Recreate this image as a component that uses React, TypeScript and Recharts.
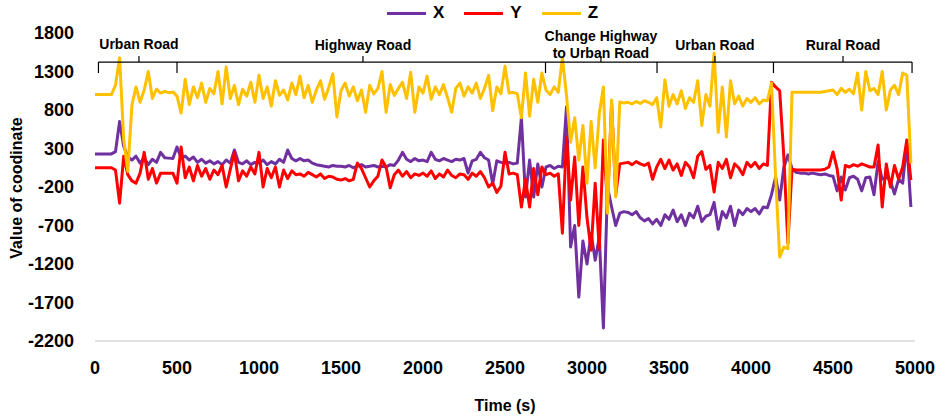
import { LineChart, Line, XAxis, YAxis, ReferenceLine, ReferenceDot } from 'recharts'

// sample times (s), one reading every 25 s
const time = Array.from({ length: 200 }, (_, i) => i * 25)

const xValues = [
  230, 230, 230, 230, 230, 260, 650, 330, 190, 150,
  200, 110, 180, 90, 160, 120, 250, 180, 175, 170,
  320, 180, 200, 150, 190, 120, 160, 110, 140, 100,
  130, 90, 150, 110, 280, 120, 100, 140, 90, 120,
  110, 150, 90, 130, 100, 160, 120, 280, 170, 140,
  170, 140, 150, 110, 90, 80, 70, 60, 80, 70,
  70, 60, 80, 50, 70, 90, 60, 70, 80, 60,
  70, 60, 90, 80, 150, 250, 160, 130, 170, 140,
  150, 130, 250, 160, 140, 170, 150, 130, 160, 150,
  170, -20, 140, 160, 250, 180, 150, -160, 140, 120,
  110, 120, 100, 110, 700, -330, 150, -330, 100, -200,
  60, 80, 40, 70, 60, 840, -980, -700, -1630, -900,
  -1200, -800, -1150, -850, -2030, -200, -460, -700, -540, -520,
  -530, -560, -520, -600, -640, -610, -680, -620, -700, -560,
  -620, -500, -650, -560, -700, -540, -600, -450, -650, -580,
  -560, -400, -750, -520, -600, -450, -700, -500, -560, -480,
  -520, -480, -550, -460, -470, -300, -70, -370, 50, 215,
  40, -10, -20, -20, -30, -20, -30, -40, -30, -50,
  -60, -250, -70, -240, -80, -60, -100, -250, -80, -70,
  -300, 130, -100, -70, -120, -290, -100, -150, 380, -460,
]

const yValues = [
  50, 50, 50, 50, 50, 20, -410, 200, -40, -120,
  -150, -20, 250, -100, 40, -150, -20, -20, -20, -20,
  -150, 320, -80, 60, -120, 80, -60, 40, -100, 20,
  -40, 80, -200, 30, 250, -120, 10, -60, 60, -30,
  250, -200, 40, -80, 60, -200, 20, -90, 10, -40,
  -30, -60, -10, -40, -70, -30, -90, -60, -70, -100,
  -110, -90, -120, -100, 110, 40, -80, -200, -120, -60,
  150, 60, -210, -40, 20, -60, 0, -80, -30, -50,
  -20, -60, 10, -90, -30, -70, 20, -50, -80, -30,
  -40, -100, -20, -60, 0, -80, -200, -150, -270, -190,
  250, -30, -20, -40, -460, -100, -460, 40, -300, 60,
  -40, -20, -60, -30, -800, 450, -370, 190, -700, 60,
  -600, -1020, -150, -1000, 410, -420, 890, -300, 100, 110,
  120, 90, 130, 100, 80, 110, -100, 60, 160, 40,
  150, 20, 100, -50, 120, 60, -80, 200, 260, 30,
  80, -265, 120, 40, 160, -80, 100, 50, -40, 120,
  60, 120, 40, 100, 80, 1160, 1100, 1050, 200, -930,
  30, 20, 20, 20, 20, 20, 20, 20, 30, 60,
  255, 40, -370, 80, 60, 90, 70, 100, 80, 60,
  60, 345, -460, 100, -200, 80, -100, 60, 410, -110,
]

const zValues = [
  1000, 1000, 1000, 1000, 1000, 1120, 1480, 420, 0, 860,
  1100, 900, 1060, 1300, 950, 1070, 1020, 1040, 1025, 1035,
  980, 760, 1200, 870, 1100, 960, 1150, 900, 1080, 1010,
  1300, 880, 1360, 950, 1120, 870, 1070, 980, 1160, 900,
  1250, 950, 1100, 850, 1180, 990, 1060, 930, 1150, 1000,
  1240, 960, 1120, 900, 1060, 1180, 940, 1090, 1270, 710,
  1050, 1150, 980, 1100, 920, 1060, 770, 1120, 1010, 1080,
  1300, 770, 1130, 990, 1080, 1160, 950, 1290, 770, 1100,
  1020, 1240, 940, 1100, 1000, 1130, 960, 770, 1080, 1150,
  980, 1100, 1020, 1150, 950, 1080, 1250, 790, 1100, 1010,
  1370, 1020, 1030, 1010, 700, 1280, 720, 1200, 900, 1280,
  1060, 1000, 1100, 1030, 1480, 990, 380, 700, 150, 600,
  -150, 650, 50, 750, 1100, -540, 930, -330, 905, 890,
  900, 880, 910, 885, 920, 900, 870, 960, 580, 1190,
  850, 1000, 880, 1050, 820, 960, 900, 1180, 600, 1000,
  850, 1540, 510, 1100, 450, 1180, 880, 980, 850, 950,
  900, 960, 880, 930, 920, 1150, -70, -1110, -980, -1000,
  1030, 1030, 1030, 1030, 1030, 1030, 1030, 1030, 1040, 1050,
  1060, 1000, 1080, 1030, 1070, 1010, 1280, 800, 1300, 1050,
  1080, 1000, 1300, 800, 1060, 1120, 1000, 1280, 1250, 110,
]

const xTicks = [0, 500, 1000, 1500, 2000, 2500, 3000, 3500, 4000, 4500, 5000]
const yTicks = [-2200, -1700, -1200, -700, -200, 300, 800, 1300, 1800]

// road sections shown by the braces on top
const sectionEdges = [21, 500, 2747, 3427, 4137, 4982]
const sectionMids = [268, 1634, 3085, 3780, 4561]
const sectionLabels = [
  { x: 268, y: 1657, text: 'Urban Road' },
  { x: 1634, y: 1644, text: 'Highway Road' },
  { x: 3085, y: 1761, text: 'Change Highway' },
  { x: 3085, y: 1540, text: 'to Urban Road' },
  { x: 3780, y: 1644, text: 'Urban Road' },
  { x: 4561, y: 1644, text: 'Rural Road' },
]
const braceY = 1423
const braceTickY = 1280
const braceNotchY = 1501

const rows = time.map((t, i) => ({ t, x: xValues[i], y: yValues[i], z: zValues[i] }))

const series = [
  { key: 'x', name: 'X', color: '#7030A0' },
  { key: 'y', name: 'Y', color: '#FF0000' },
  { key: 'z', name: 'Z', color: '#FFC000' },
]

const font = '"Liberation Sans", Arial, sans-serif'
const tickStyle = { fill: '#000', fontSize: 18, fontWeight: 700 }

export default function App() {
  return (
    <div style={{ position: 'absolute', left: 0, top: 0, width: 937, height: 419, fontFamily: font, background: '#fff' }}>
      <LineChart width={937} height={419} data={rows} margin={{ top: 33, right: 22, left: 0, bottom: 48 }}>
        <XAxis
          dataKey="t"
          type="number"
          domain={[0, 5000]}
          ticks={xTicks}
          interval={0}
          height={30}
          tickSize={0}
          tickMargin={20}
          axisLine={{ stroke: '#d9d9d9', strokeWidth: 1.5 }}
          tick={tickStyle}
        />
        <YAxis
          type="number"
          domain={[-2200, 1800]}
          ticks={yTicks}
          interval={0}
          width={95}
          tickSize={0}
          tickMargin={21}
          axisLine={false}
          tick={tickStyle}
        />
        {series.map((s) => (
          <Line
            key={s.key}
            dataKey={s.key}
            name={s.name}
            stroke={s.color}
            strokeWidth={3}
            strokeLinejoin="round"
            dot={false}
            type="linear"
            isAnimationActive={false}
          />
        ))}

        {/* braces */}
        <ReferenceLine
          segment={[{ x: sectionEdges[0], y: braceY }, { x: sectionEdges[sectionEdges.length - 1], y: braceY }]}
          stroke="#000"
          strokeWidth={1.2}
          ifOverflow="visible"
        />
        {sectionEdges.map((e) => (
          <ReferenceLine
            key={'e' + e}
            segment={[{ x: e, y: braceY }, { x: e, y: braceTickY }]}
            stroke="#000"
            strokeWidth={1.2}
            ifOverflow="visible"
          />
        ))}
        {sectionMids.map((m) => (
          <ReferenceLine
            key={'m' + m}
            segment={[{ x: m, y: braceY }, { x: m, y: braceNotchY }]}
            stroke="#000"
            strokeWidth={1.2}
            ifOverflow="visible"
          />
        ))}
        {sectionLabels.map((l) => (
          <ReferenceDot
            key={l.text + l.x}
            x={l.x}
            y={l.y}
            r={0}
            fill="none"
            stroke="none"
            ifOverflow="visible"
            label={{ value: l.text, position: 'center', fill: '#000', fontSize: 14, fontWeight: 700 }}
          />
        ))}
      </LineChart>

      {/* legend */}
      <div style={{ position: 'absolute', top: 3, left: 387, display: 'flex', alignItems: 'center', fontWeight: 700, fontSize: 17 }}>
        {series.map((s) => (
          <div key={s.key} style={{ display: 'flex', alignItems: 'center', marginRight: 20 }}>
            <div style={{ width: 39, height: 3, background: s.color, marginRight: 7 }} />
            <span>{s.name}</span>
          </div>
        ))}
      </div>

      <div
        style={{
          position: 'absolute',
          left: 17,
          top: 188,
          transform: 'translate(-50%, -50%) rotate(-90deg)',
          whiteSpace: 'nowrap',
          fontWeight: 700,
          fontSize: 16,
        }}
      >
        Value of coodinate
      </div>
      <div
        style={{
          position: 'absolute',
          left: 505,
          top: 406,
          transform: 'translate(-50%, -50%)',
          whiteSpace: 'nowrap',
          fontWeight: 700,
          fontSize: 16,
        }}
      >
        Time (s)
      </div>
    </div>
  )
}
